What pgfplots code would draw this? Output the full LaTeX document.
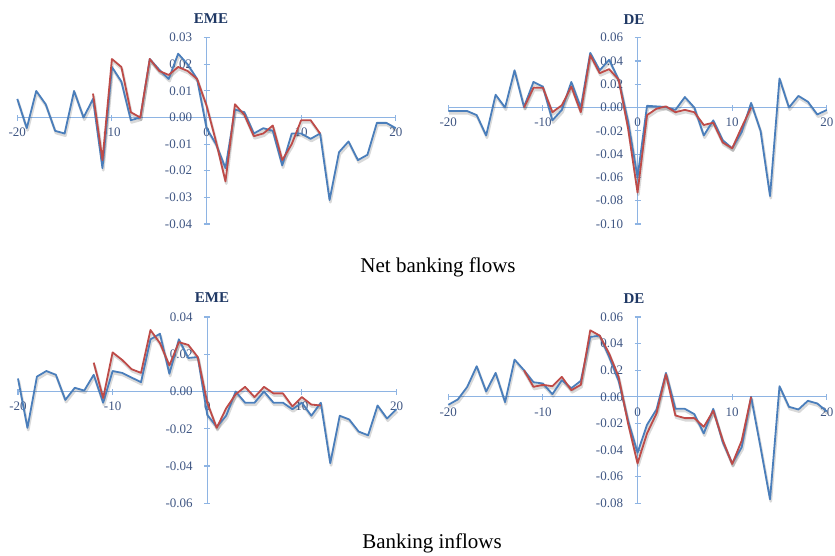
\documentclass[border=0pt]{standalone}
\usepackage{fontspec}
\setmainfont{Liberation Serif}
\usepackage{pgfplots}
\usepackage{pgfplotstable}
\pgfplotsset{compat=1.18}

\definecolor{axisblue}{HTML}{8EB4E3}
\definecolor{ticktext}{HTML}{3F5683}
\definecolor{titlenavy}{HTML}{1F3864}
\definecolor{serblue}{HTML}{4A7EBB}
\definecolor{serred}{HTML}{BE4B48}

\pgfplotstableread{
x b r
-20 0.007 nan
-19 -0.004 nan
-18 0.010 nan
-17 0.005 nan
-16 -0.005 nan
-15 -0.006 nan
-14 0.010 nan
-13 0.000 nan
-12 0.007 0.009
-11 -0.019 -0.016
-10 0.019 0.022
-9 0.0135 0.019
-8 -0.001 0.002
-7 0.000 0.000
-6 0.022 0.022
-5 0.018 0.0175
-4 0.0145 0.016
-3 0.024 0.019
-2 0.020 0.0175
-1 0.0145 0.0145
0 -0.004 0.0045
1 -0.010 -0.009
2 -0.019 -0.024
3 0.003 0.005
4 0.002 0.001
5 -0.006 -0.007
6 -0.004 -0.006
7 -0.005 -0.003
8 -0.018 -0.016
9 -0.006 -0.010
10 -0.006 -0.001
11 -0.008 -0.001
12 -0.006 -0.006
13 -0.031 nan
14 -0.013 nan
15 -0.009 nan
16 -0.016 nan
17 -0.014 nan
18 -0.002 nan
19 -0.002 nan
20 -0.004 nan
}\netEME

\pgfplotstableread{
x b r
-20 -0.003 nan
-19 -0.003 nan
-18 -0.003 nan
-17 -0.0065 nan
-16 -0.024 nan
-15 0.011 nan
-14 0.000 nan
-13 0.032 nan
-12 0.0005 0.000
-11 0.022 0.017
-10 0.018 0.017
-9 -0.011 -0.004
-8 -0.002 0.002
-7 0.022 0.018
-6 0.000 -0.004
-5 0.047 0.045
-4 0.032 0.0295
-3 0.041 0.033
-2 0.024 0.024
-1 -0.012 -0.018
0 -0.060 -0.073
1 0.0015 -0.0065
2 0.001 -0.001
3 0.0005 0.001
4 -0.002 -0.004
5 0.009 -0.002
6 0.000 -0.004
7 -0.024 -0.015
8 -0.011 -0.013
9 -0.028 -0.030
10 -0.035 -0.035
11 -0.021 -0.017
12 0.004 0.000
13 -0.020 nan
14 -0.076 nan
15 0.025 nan
16 0.000 nan
17 0.010 nan
18 0.005 nan
19 -0.006 nan
20 -0.002 nan
}\netDE

\pgfplotstableread{
x b r
-20 0.007 nan
-19 -0.0195 nan
-18 0.008 nan
-17 0.011 nan
-16 0.009 nan
-15 -0.0045 nan
-14 0.002 nan
-13 0.0005 nan
-12 0.009 0.0155
-11 -0.006 -0.0035
-10 0.011 0.021
-9 0.010 0.017
-8 0.0075 0.012
-7 0.005 0.010
-6 0.028 0.033
-5 0.031 0.026
-4 0.0095 0.014
-3 0.028 0.0265
-2 0.018 0.025
-1 0.0185 0.0185
0 -0.0125 -0.006
1 -0.019 -0.0195
2 -0.013 -0.009
3 0.000 -0.0015
4 -0.006 0.0025
5 -0.006 -0.003
6 0.000 0.0025
7 -0.006 -0.001
8 -0.006 -0.001
9 -0.0095 -0.008
10 -0.006 -0.003
11 -0.013 -0.007
12 -0.006 -0.0075
13 -0.0385 nan
14 -0.013 nan
15 -0.015 nan
16 -0.0215 nan
17 -0.0235 nan
18 -0.0075 nan
19 -0.0145 nan
20 -0.0095 nan
}\inEME

\pgfplotstableread{
x b r
-20 -0.006 nan
-19 -0.002 nan
-18 0.0075 nan
-17 0.023 nan
-16 0.004 nan
-15 0.018 nan
-14 -0.004 nan
-13 0.028 nan
-12 0.020 0.020
-11 0.011 0.0075
-10 0.010 0.009
-9 0.002 0.008
-8 0.0125 0.015
-7 0.0065 0.005
-6 0.012 0.009
-5 0.045 0.050
-4 0.046 0.046
-3 0.030 0.0325
-2 0.012 0.015
-1 -0.018 -0.020
0 -0.042 -0.050
1 -0.021 -0.0275
2 -0.0095 -0.0125
3 0.018 0.017
4 -0.009 -0.014
5 -0.009 -0.016
6 -0.013 -0.016
7 -0.0275 -0.0225
8 -0.009 -0.0105
9 -0.034 -0.0325
10 -0.050 -0.0505
11 -0.038 -0.033
12 0.000 0.000
13 -0.038 nan
14 -0.077 nan
15 0.008 nan
16 -0.0075 nan
17 -0.0095 nan
18 -0.003 nan
19 -0.005 nan
20 -0.011 nan
}\inDE

\pgfplotsset{
  panel/.style={
    scale only axis, width=378.5pt, height=186.3pt,
    anchor=south west, clip=false,
    xmin=-20, xmax=20,
    axis lines=middle,
    axis line style={draw=axisblue, line width=1.1pt, -},
    xtick={-20,-10,0,10,20},
    tick style={draw=axisblue, line width=1.1pt},
    major tick length=6pt, tick align=center,
    hide obscured x ticks=false, hide obscured y ticks=false,
    scaled y ticks=false,
    /pgf/number format/assume math mode=true,
    ticklabel style={font=\fontsize{13}{15}\selectfont, text=ticktext},
    yticklabel style={/pgf/number format/fixed, /pgf/number format/precision=2,
      /pgf/number format/fixed zerofill, xshift=-8pt},
    xticklabel style={yshift=-4pt},
  },
  shadow/.style={draw=black, opacity=0.15, line width=2.6pt, xshift=0.8pt, yshift=-2.2pt, forget plot, line join=round},
  bl/.style={draw=serblue, line width=1.8pt, line join=round},
  rd/.style={draw=serred, line width=1.8pt, line join=round},
}

\begin{document}
\begin{tikzpicture}[x=1pt,y=1pt]
\path[use as bounding box] (0,0) rectangle (835,556);

% Panel 1: Net flows EME
\begin{axis}[panel, at={(17.3pt,332pt)}, ymin=-0.04, ymax=0.03,
  ytick={-0.04,-0.03,-0.02,-0.01,0,0.01,0.02,0.03}]
\addplot[shadow] table[x=x,y=b] {\netEME};
\addplot[shadow] table[x=x,y=r] {\netEME};
\addplot[bl] table[x=x,y=b] {\netEME};
\addplot[rd] table[x=x,y=r] {\netEME};
\end{axis}

% Panel 2: Net flows DE
\begin{axis}[panel, at={(448.3pt,332pt)}, ymin=-0.10, ymax=0.06,
  ytick={-0.10,-0.08,-0.06,-0.04,-0.02,0,0.02,0.04,0.06}]
\addplot[shadow] table[x=x,y=b] {\netDE};
\addplot[shadow] table[x=x,y=r] {\netDE};
\addplot[bl] table[x=x,y=b] {\netDE};
\addplot[rd] table[x=x,y=r] {\netDE};
\end{axis}

% Panel 3: Inflows EME
\begin{axis}[panel, at={(18pt,52.7pt)}, ymin=-0.06, ymax=0.04,
  ytick={-0.06,-0.04,-0.02,0,0.02,0.04}]
\addplot[shadow] table[x=x,y=b] {\inEME};
\addplot[shadow] table[x=x,y=r] {\inEME};
\addplot[bl] table[x=x,y=b] {\inEME};
\addplot[rd] table[x=x,y=r] {\inEME};
\end{axis}

% Panel 4: Inflows DE
\begin{axis}[panel, at={(448.3pt,52.7pt)}, ymin=-0.08, ymax=0.06,
  ytick={-0.08,-0.06,-0.04,-0.02,0,0.02,0.04,0.06}]
\addplot[shadow] table[x=x,y=b] {\inDE};
\addplot[shadow] table[x=x,y=r] {\inDE};
\addplot[bl] table[x=x,y=b] {\inDE};
\addplot[rd] table[x=x,y=r] {\inDE};
\end{axis}

\node[font=\fontsize{15}{17}\selectfont\bfseries, text=titlenavy] at (211,537) {EME};
\node[font=\fontsize{15}{17}\selectfont\bfseries, text=titlenavy] at (634,536) {DE};
\node[font=\fontsize{15}{17}\selectfont\bfseries, text=titlenavy] at (212,258) {EME};
\node[font=\fontsize{15}{17}\selectfont\bfseries, text=titlenavy] at (634,257) {DE};
\node[font=\fontsize{21}{24}\selectfont] at (438,289) {Net banking flows};
\node[font=\fontsize{21}{24}\selectfont] at (432,13) {Banking inflows};
\end{tikzpicture}
\end{document}
